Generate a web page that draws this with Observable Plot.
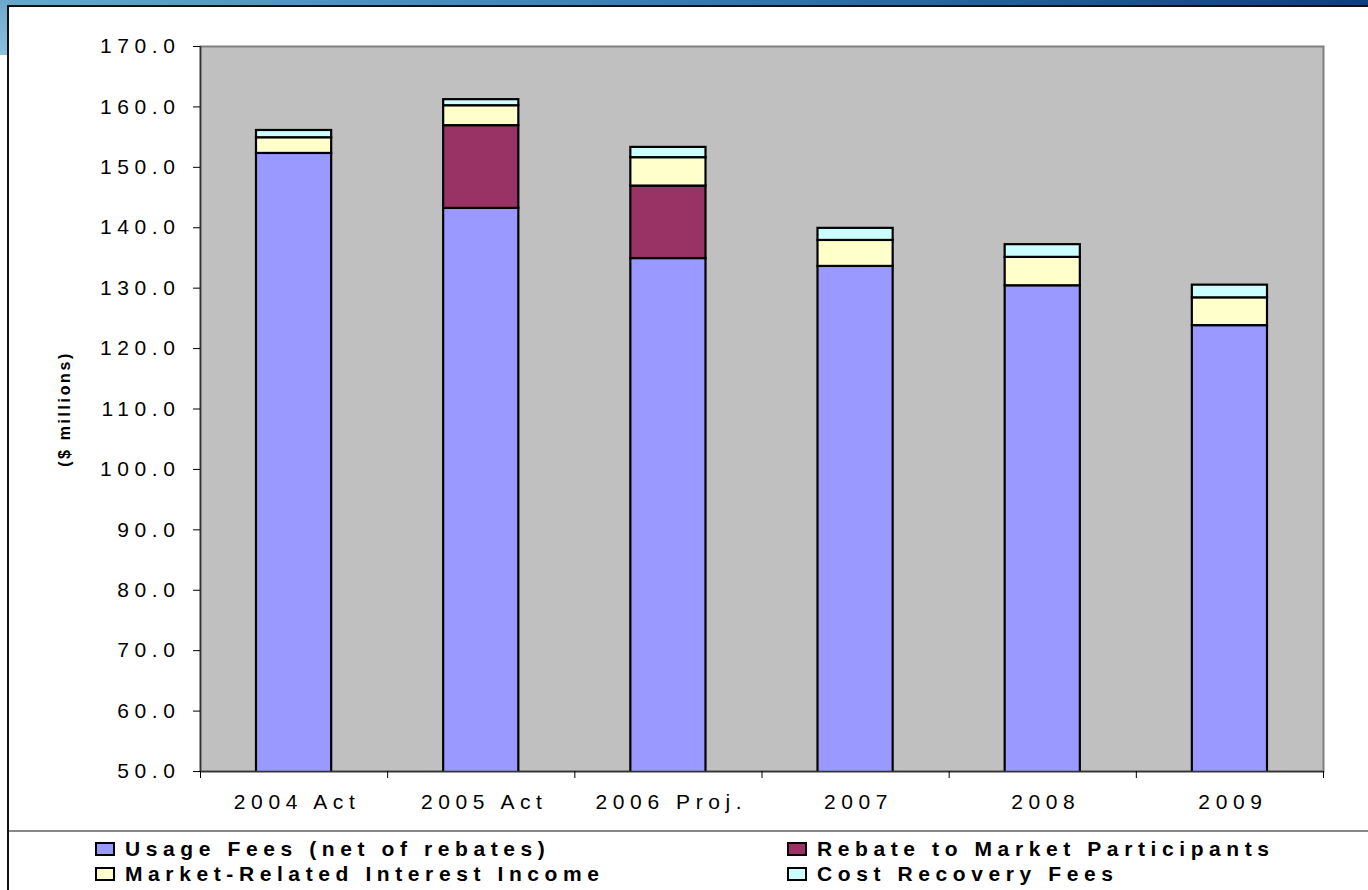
<!DOCTYPE html>
<html>
<head>
<meta charset="utf-8">
<script src="https://cdn.jsdelivr.net/npm/d3@7"></script>
<script src="https://cdn.jsdelivr.net/npm/@observablehq/plot@0.6"></script>
<style>
  html, body { margin: 0; padding: 0; background: #ffffff; }
  #page { position: relative; width: 1368px; height: 890px; overflow: hidden; font-family: "Liberation Sans", Arial, sans-serif; }
  #topband { position: absolute; left: 0; top: 0; width: 1368px; height: 5px; background: linear-gradient(to right, #6aa8cc, #3d7aa8 50%, #0f3f78); }
  #leftband { position: absolute; left: 0; top: 0; width: 7px; height: 55px; background: linear-gradient(to bottom, #6aa8cc, #8cc0dc); }
  #box { position: absolute; left: 7px; top: 5px; width: 1361px; height: 885px; border-left: 2px solid #111; border-top: 2px solid #111; box-sizing: border-box; background: #fff; }
  #chart { position: absolute; left: 0; top: 0; }
  #sep { position: absolute; left: 9px; top: 830px; width: 1359px; height: 0; border-top: 2px solid #888; }
  .leg { position: absolute; display: flex; align-items: center; font-weight: bold; font-size: 21px; line-height: 24px; letter-spacing: 5.6px; color: #000; white-space: nowrap; }
  .sw { width: 16px; height: 10px; border: 2px solid #000; margin-right: 10px; box-sizing: content-box; }
  svg g[aria-label="y-axis tick label"] text { font-size: 21px; letter-spacing: 5.6px; }
  svg g[aria-label="x-axis tick label"] text { font-size: 21px; letter-spacing: 5.6px; }
  svg g[aria-label="y-axis label"] text { font-weight: bold; font-size: 16px; letter-spacing: 2.6px; }
</style>
</head>
<body>
<div id="page">
  <div id="topband"></div>
  <div id="leftband"></div>
  <div id="box"></div>
  <div id="chart"></div>
  <div id="sep"></div>
  <div id="legend"></div>
</div>
<script>
// ---- data ----
const categories = ["2004 Act", "2005 Act", "2006 Proj.", "2007", "2008", "2009"];
const seriesNames = ["Usage Fees (net of rebates)", "Rebate to Market Participants", "Market-Related Interest Income", "Cost Recovery Fees"];
const usageFees = [152.3, 143.2, 134.9, 133.6, 130.4, 123.8];
const rebates = [0, 13.7, 12.0, 0, 0, 0];
const interestIncome = [2.6, 3.3, 4.7, 4.3, 4.7, 4.6];
const costRecovery = [1.2, 1.0, 1.7, 2.0, 2.1, 2.1];
const seriesColors = ["#9999FF", "#993366", "#FFFFCC", "#CCFFFF"];
const yTicks = [50, 60, 70, 80, 90, 100, 110, 120, 130, 140, 150, 160, 170];

const seriesValues = [usageFees, rebates, interestIncome, costRecovery];
const rows = [];
categories.forEach((c, i) => {
  seriesValues.forEach((vals, s) => {
    if (vals[i] > 0) rows.push({category: c, i0: i, i1: i + 1, series: seriesNames[s], value: vals[i]});
  });
});

const W = 1368, H = 830;
const chart = Plot.plot({
  width: W,
  height: H,
  marginLeft: 200,
  marginRight: 45,
  marginTop: 46,
  marginBottom: 59,
  style: {fontFamily: '"Liberation Sans", Arial, sans-serif', fontSize: "21px", background: "transparent", color: "#000"},
  x: {type: "linear", domain: [0, categories.length], axis: null},
  y: {domain: [50, 170], axis: null},
  color: {domain: seriesNames, range: seriesColors},
  marks: [
    Plot.frame({fill: "#C0C0C0", stroke: "#808080", strokeWidth: 2}),
    Plot.rectY(rows, Plot.stackY({
      x1: "i0", x2: "i1", y: "value", fill: "series",
      stroke: "#000", strokeWidth: 2.2, insetLeft: 56, insetRight: 56, clip: true
    })),
    Plot.ruleX([0], {stroke: "#333", strokeWidth: 1.5}),
    Plot.ruleY([50], {stroke: "#333", strokeWidth: 1.5}),
    Plot.axisY({
      ticks: yTicks, tickFormat: d => d.toFixed(1), tickSize: 7, tickPadding: 13, fontSize: 21,
      label: "($ millions)", labelAnchor: "center", labelArrow: "none", labelOffset: 142
    }),
    Plot.axisX({ticks: d3.range(categories.length + 1), tickFormat: () => "", tickSize: 7}),
    Plot.axisX({
      ticks: categories.map((c, i) => i + 0.5), tickFormat: d => categories[Math.floor(d)],
      tickSize: 0, tickPadding: 23, fontSize: 21, dx: 3, label: null
    })
  ]
});
document.getElementById("chart").appendChild(chart);

// ---- legend (HTML) ----
const legendPos = [
  {left: 95, top: 837}, {left: 787, top: 837},
  {left: 95, top: 862}, {left: 787, top: 862}
];
const legendOrder = [0, 1, 2, 3];
const legend = document.getElementById("legend");
legendOrder.forEach((s, k) => {
  const d = document.createElement("div");
  d.className = "leg";
  d.style.left = legendPos[k].left + "px";
  d.style.top = legendPos[k].top + "px";
  const sw = document.createElement("span");
  sw.className = "sw";
  sw.style.background = seriesColors[s];
  d.appendChild(sw);
  const t = document.createElement("span");
  t.textContent = seriesNames[s];
  d.appendChild(t);
  legend.appendChild(d);
});
</script>
</body>
</html>
